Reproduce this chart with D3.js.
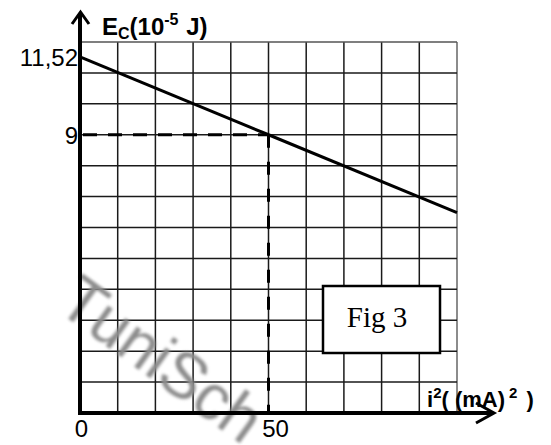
<!DOCTYPE html>
<html>
<head>
<meta charset="utf-8">
<script src="https://cdn.jsdelivr.net/npm/d3@7"></script>
<style>
  html, body { margin: 0; padding: 0; background: #fff; }
  svg { display: block; }
</style>
</head>
<body>
<svg id="chart" width="551" height="445"></svg>
<script>
// Kinetic-style energy Ec versus i² : straight line through (0, 11.52) and (50, 9)
const lineX = [0, 50, 100];
const lineY = [11.52, 9, 6.48];
const markedPoint = [50, 9];
const yTickValues = [11.52, 9];
const yTickLabels = ["11,52", "9"];
const xTickValues = [0, 50];
const xTickLabels = ["0", "50"];
const xGrid = d3.range(0, 101, 10);
const yGrid = d3.range(0, 13, 1);

const svg = d3.select("#chart");
const x = d3.scaleLinear().domain([0, 100]).range([80, 457]);
const y = d3.scaleLinear().domain([0, 12]).range([413, 42]);

const defs = svg.append("defs");
defs.append("filter").attr("id", "soft")
  .append("feGaussianBlur").attr("stdDeviation", 1.6);

// grid
const grid = svg.append("g").attr("stroke-width", 1.5);
grid.selectAll("line.v").data(xGrid).join("line")
  .attr("x1", d => x(d)).attr("x2", d => x(d))
  .attr("y1", y(0)).attr("y2", y(12))
  .attr("stroke", d => d === 100 ? "#666" : "#1a1a1a");
grid.selectAll("line.h").data(yGrid).join("line")
  .attr("x1", x(0)).attr("x2", x(100))
  .attr("y1", d => y(d)).attr("y2", d => y(d))
  .attr("stroke", d => d === 12 ? "#555" : "#1a1a1a");

// watermark
svg.append("text")
  .attr("transform", "translate(55,309) rotate(36)")
  .attr("font-family", "Liberation Sans, Arial, sans-serif")
  .attr("font-size", 64)
  .attr("fill", "#8c8c8c")
  .attr("filter", "url(#soft)")
  .text("TuniSch");

// dashed guides to the marked point
svg.append("line")
  .attr("x1", x(0)).attr("x2", x(markedPoint[0]))
  .attr("y1", y(markedPoint[1])).attr("y2", y(markedPoint[1]))
  .attr("stroke", "#000").attr("stroke-width", 3)
  .attr("stroke-dasharray", "14,11").attr("stroke-dashoffset", -3);
svg.append("line")
  .attr("x1", x(markedPoint[0])).attr("x2", x(markedPoint[0]))
  .attr("y1", y(markedPoint[1])).attr("y2", y(0))
  .attr("stroke", "#000").attr("stroke-width", 3)
  .attr("stroke-dasharray", "13,14");

// data line
const pts = lineX.map((d, i) => [d, lineY[i]]);
svg.append("path")
  .attr("d", d3.line().x(d => x(d[0])).y(d => y(d[1]))(pts))
  .attr("fill", "none").attr("stroke", "#000").attr("stroke-width", 3);

// label box
svg.append("rect")
  .attr("x", 323).attr("y", 286).attr("width", 117).attr("height", 67)
  .attr("fill", "#fff").attr("stroke", "#000").attr("stroke-width", 2.5);
svg.append("text")
  .attr("x", 377).attr("y", 327).attr("text-anchor", "middle")
  .attr("font-family", "Liberation Serif, Times New Roman, serif")
  .attr("font-size", 29).attr("fill", "#000")
  .text("Fig 3");

// axes
svg.append("line").attr("x1", x(0)).attr("x2", x(0))
  .attr("y1", y(0) + 1.5).attr("y2", 13)
  .attr("stroke", "#000").attr("stroke-width", 4);
svg.append("path").attr("d", "M72,24 L80.5,12 L89,24")
  .attr("fill", "none").attr("stroke", "#000").attr("stroke-width", 3);
svg.append("line").attr("x1", x(0) - 2).attr("x2", 493)
  .attr("y1", y(0)).attr("y2", y(0))
  .attr("stroke", "#000").attr("stroke-width", 4);
svg.append("path").attr("d", "M476,403 L494,413 L476,423")
  .attr("fill", "none").attr("stroke", "#000").attr("stroke-width", 3);

// tick labels
const sans = "Liberation Sans, Arial, sans-serif";
svg.selectAll("text.yt").data(yTickValues).join("text")
  .attr("x", 78).attr("y", d => y(d) + 9)
  .attr("text-anchor", "end")
  .attr("font-family", sans).attr("font-size", 24).attr("fill", "#000")
  .text((d, i) => yTickLabels[i]);
svg.selectAll("text.xt").data(xTickValues).join("text")
  .attr("x", d => x(d) + (d === 0 ? 1.5 : 7)).attr("y", 437)
  .attr("text-anchor", "middle")
  .attr("font-family", sans).attr("font-size", 24).attr("fill", "#000")
  .text((d, i) => xTickLabels[i]);

// axis titles
const yt = svg.append("text").attr("x", 102).attr("y", 35)
  .attr("font-family", sans).attr("font-weight", "bold")
  .attr("font-size", 24).attr("fill", "#000");
yt.append("tspan").text("E");
yt.append("tspan").attr("font-size", 16).attr("dy", 4).text("C");
yt.append("tspan").attr("dy", -4).text("(10");
yt.append("tspan").attr("font-size", 16).attr("dy", -10).text("-5");
yt.append("tspan").attr("dy", 10).attr("dx", 1).text(" J)");

const xt = svg.append("text").attr("x", 427).attr("y", 407)
  .attr("font-family", sans).attr("font-weight", "bold")
  .attr("font-size", 22).attr("fill", "#000");
xt.append("tspan").text("i");
xt.append("tspan").attr("font-size", 15).attr("dy", -9).text("2");
xt.append("tspan").attr("dy", 9).text("( (mA)");
xt.append("tspan").attr("font-size", 15).attr("dy", -9).attr("dx", 4).text("2");
xt.append("tspan").attr("dy", 9).attr("dx", 3).text(" )");
</script>
</body>
</html>
